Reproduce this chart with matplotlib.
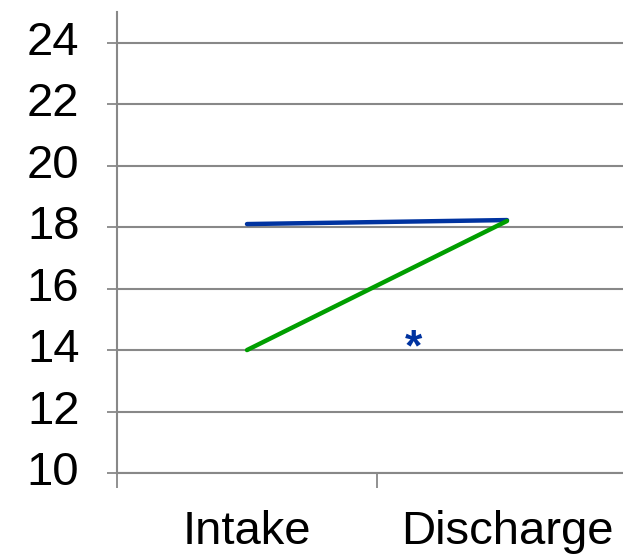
import matplotlib
matplotlib.use("Agg")
import matplotlib.pyplot as plt

categories = ["Intake", "Discharge"]
series_blue = [18.1, 18.23]
series_green = [14.0, 18.2]
yticks = [10, 12, 14, 16, 18, 20, 22, 24]

plt.rcParams['font.family'] = ['Liberation Sans', 'DejaVu Sans']

fig = plt.figure(figsize=(6.23, 5.55), dpi=100)
ax = fig.add_axes([117/623, 1-473/555, (637-117)/623, (473-12)/555])

x = [0.5, 1.5]
ax.plot(x, series_blue, color='#0033a0', lw=3.2, solid_capstyle='round', zorder=3)
ax.plot(x, series_green, color='#009e00', lw=3.2, solid_capstyle='round', zorder=4)

ax.text(0.5 + 0.64, 14.05, '*', color='#0033a0', fontsize=32, fontweight='bold',
        ha='center', va='center')

ax.set_xlim(0, 2)
ax.set_ylim(10, 25)
ax.set_yticks(yticks)
ax.set_yticklabels([str(v) for v in yticks], fontsize=34, va='center')
ax.set_xticks([0, 1, 2])
ax.set_xticklabels([])
ax.set_xticks(x, minor=True)
ax.set_xticklabels(categories, minor=True, fontsize=34)
ax.tick_params(axis='x', which='minor', length=0, pad=27)
ax.tick_params(axis='x', which='major', length=11, width=1.3, color='#888888', direction='out')
ax.tick_params(axis='y', length=7, width=1.3, color='#888888', pad=20)

ax.grid(axis='y', color='#888888', lw=1.5)
ax.set_axisbelow(True)
for s in ['top', 'right']:
    ax.spines[s].set_visible(False)
ax.spines['left'].set_color('#888888')
ax.spines['left'].set_linewidth(1.5)
ax.spines['bottom'].set_color('#888888')
ax.spines['bottom'].set_linewidth(1.5)

fig.savefig('out.png', dpi=100)
